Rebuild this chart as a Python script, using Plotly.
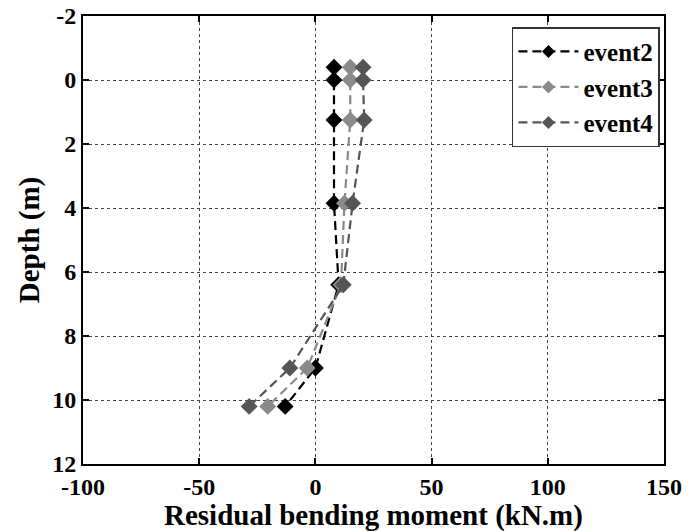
import plotly.graph_objects as go

depth = [-0.4, 0.0, 1.25, 3.85, 6.4, 9.0, 10.2]
event2 = [8, 8, 8, 8, 10, 0, -13]
event3 = [15, 15, 15, 12.5, 11, -3.5, -20.5]
event4 = [20.5, 20.5, 21, 16, 12, -11, -28.5]

series = [("event2", event2, "#000000"),
          ("event3", event3, "#8a8a8a"),
          ("event4", event4, "#555555")]

x_ticks = [-100, -50, 0, 50, 100, 150]
y_ticks = [-2, 0, 2, 4, 6, 8, 10, 12]
x_title = "Residual bending moment (kN.m)"
y_title = "Depth (m)"

fig = go.Figure()
for name, vals, col in series:
    fig.add_trace(go.Scatter(
        x=vals, y=depth, name=name, mode="lines+markers", showlegend=False,
        line=dict(color=col, width=2.2, dash="9px,5px"),
        marker=dict(symbol="diamond", size=13, color=col),
    ))
# legend entries with smaller markers
for name, vals, col in series:
    fig.add_trace(go.Scatter(
        x=[None], y=[None], name=name, mode="lines+markers",
        line=dict(color=col, width=2.2, dash="9px,5px"),
        marker=dict(symbol="diamond", size=10, color=col),
    ))

fam = "Liberation Serif, Times New Roman, serif"
tickfont = dict(family=fam, size=24, color="black", weight="bold")
titlefont = dict(family=fam, size=29, color="black", weight="bold")
axis_common = dict(showline=True, linecolor="black", linewidth=2, mirror="ticks",
                   ticks="inside", ticklen=6, tickcolor="black", tickwidth=1.5,
                   showgrid=True, gridcolor="#444444", griddash="dot", gridwidth=1,
                   zeroline=False, tickfont=tickfont, automargin=False)

fig.update_layout(
    width=689, height=531,
    margin=dict(l=83, r=25, t=16, b=67),
    plot_bgcolor="white", paper_bgcolor="white",
    font=tickfont,
    showlegend=True,
    legend=dict(x=0.993, y=0.975, xanchor="right", yanchor="top",
                bgcolor="white", bordercolor="#333333", borderwidth=1.5,
                font=dict(family=fam, size=25, color="black", weight="bold"),
                itemwidth=60, tracegroupgap=0),
    xaxis=dict(range=[-100, 150], tickvals=x_ticks,
               ticktext=[str(v) for v in x_ticks], **axis_common),
    yaxis=dict(range=[12, -2], tickvals=y_ticks,
               ticktext=[str(v) for v in y_ticks],
               title=dict(text=y_title, font=titlefont, standoff=4),
               **axis_common),
    annotations=[dict(text=x_title, xref="paper", yref="paper", x=0.5, y=-0.116,
                      xanchor="center", yanchor="middle", showarrow=False,
                      font=titlefont)],
)

fig.write_html("out.html")
